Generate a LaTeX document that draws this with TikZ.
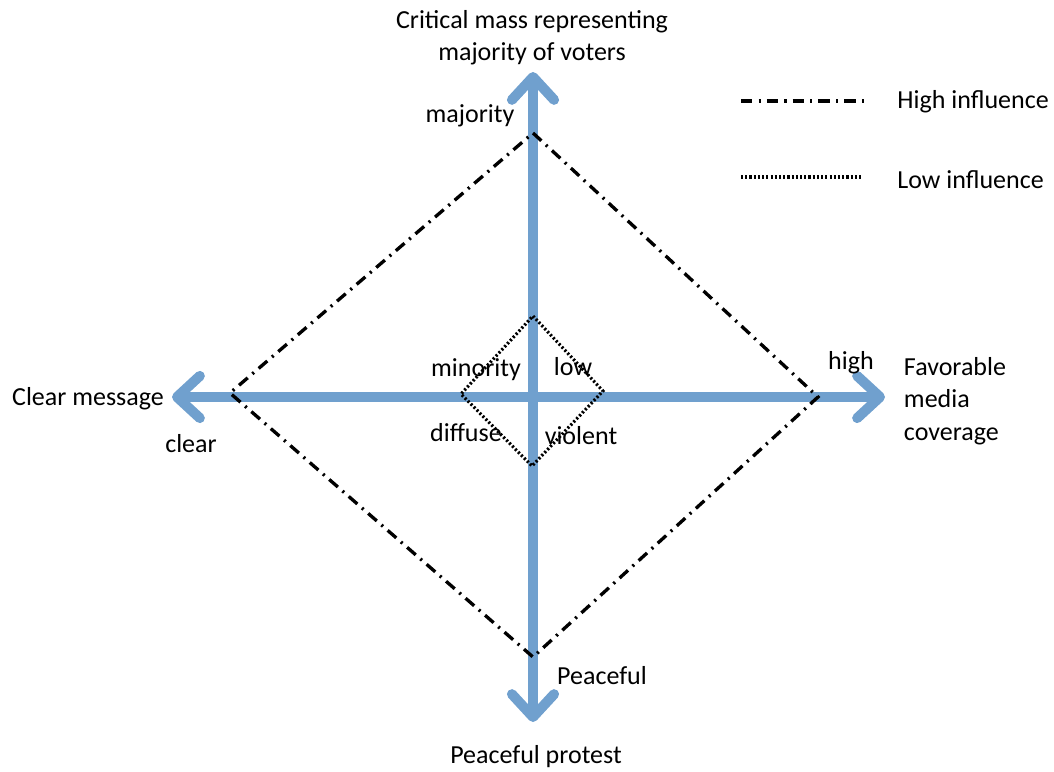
\documentclass[tikz,border=0pt]{standalone}
\usepackage{fontspec}
\setmainfont{Carlito}
\usepackage{tikz}
\usetikzlibrary{arrows.meta}
\definecolor{axisblue}{RGB}{112,160,206}
\tikzstyle{axis}=[draw=axisblue,line width=5.7pt,
  {Straight Barb[length=13pt,width=24pt,round]}-{Straight Barb[length=13pt,width=24pt,round]}]
\tikzstyle{highinf}=[line width=1.9pt,dash pattern=on 6.5pt off 3.5pt on 1.2pt off 3.5pt]
\tikzstyle{lowinf}=[line width=1.8pt,dash pattern=on 1.2pt off 1.2pt]
\tikzstyle{lbl}=[inner sep=0pt,font=\fontsize{14.8}{18}\selectfont]

\begin{document}
\begin{tikzpicture}[x=0.02cm,y=-0.02cm]
\useasboundingbox (0,0) rectangle (1054,771);
% axes
\coordinate (N) at (533,72);
\coordinate (S) at (533,722);
\coordinate (W) at (172,397);
\coordinate (E) at (885,397);
\draw[axis] (S) -- (N);
\draw[axis] (W) -- (E);
% high influence
\coordinate (H1) at (533,133);
\coordinate (H2) at (818,397);
\coordinate (H3) at (533,657);
\coordinate (H4) at (230,393);
\draw[highinf] (H1) -- (H2) -- (H3) -- (H4) -- cycle;
% low influence
\coordinate (L1) at (533,316);
\coordinate (L2) at (603,391);
\coordinate (L3) at (532,466);
\coordinate (L4) at (461,394);
\draw[lowinf] (L1) -- (L2) -- (L3) -- (L4) -- cycle;
% axis titles
\node[lbl,align=center] (mass) at (532,38) {Critical mass representing\\[0pt]majority of voters};
\node[lbl] (clearmsg) at (88,399) {Clear message};
\node[lbl,align=left] (media) at (955,401) {Favorable\\[0.5pt]media\\[0.5pt]coverage};
\node[lbl] (protest) at (536,757) {Peaceful protest};
% end labels
\node[lbl] (majority) at (470,116) {majority};
\node[lbl] (clear) at (191,444) {clear};
\node[lbl] (high) at (851,363) {high};
\node[lbl] (peaceful) at (602,676) {Peaceful};
\node[lbl] (minority) at (476,370) {minority};
\node[lbl] (low) at (573,367) {low};
\node[lbl] (diffuse) at (466,433) {diffuse};
\node[lbl] (violent) at (581,436) {violent};
% legend
\coordinate (hiA) at (741,101);
\coordinate (hiB) at (864,101);
\coordinate (loA) at (741,177);
\coordinate (loB) at (862,177);
\draw[highinf] (hiA) -- (hiB);
\draw[lowinf] (loA) -- (loB);
\node[lbl,anchor=west] (hilbl) at (897,102) {High influence};
\node[lbl,anchor=west] (lolbl) at (897,180) {Low influence};
\end{tikzpicture}
\end{document}
